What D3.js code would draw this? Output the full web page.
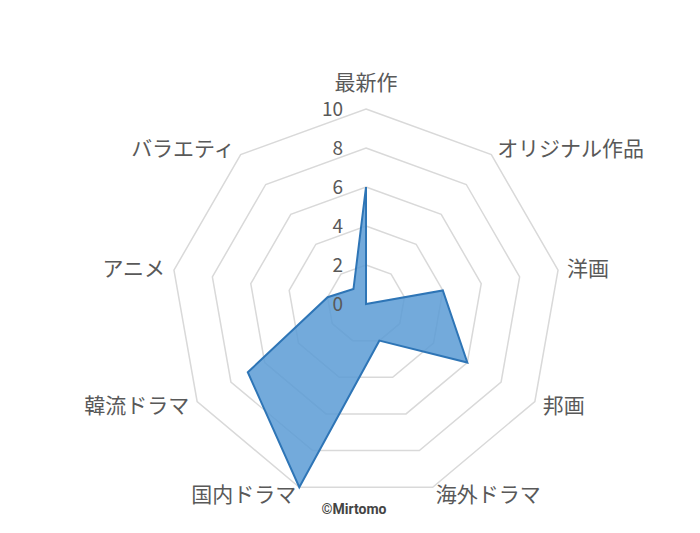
<!DOCTYPE html>
<html>
<head>
<meta charset="utf-8">
<script src="https://cdn.jsdelivr.net/npm/d3@7"></script>
<style>
  body { margin: 0; background: #fff; }
  svg text { font-family: "Noto Sans CJK JP", "Noto Sans", sans-serif; fill: #595959; }
</style>
</head>
<body>
<script>
// categories clockwise from the top
const categories = ['最新作', 'オリジナル作品', '洋画', '邦画', '海外ドラマ', '国内ドラマ', '韓流ドラマ', 'アニメ', 'バラエティ']
const values = [6, 0, 4, 6, 2, 10, 7, 2, 1]
const ticks = [0, 2, 4, 6, 8, 10]

const width = 700
const height = 533
const center = { x: 366, y: 304 }
const radius = 195

const svg = d3.select('body')
  .append('svg')
  .attr('width', width)
  .attr('height', height)

const g = svg.append('g')
  .attr('transform', `translate(${center.x}, ${center.y})`)

const r = d3.scaleLinear()
  .domain([0, 10])
  .range([0, radius])

const angle = d3.scaleLinear()
  .domain([0, categories.length])
  .range([0, 2 * Math.PI])

const pt = (i, v) => [r(v) * Math.sin(angle(i)), -r(v) * Math.cos(angle(i))]

// grid rings
g.selectAll('path.ring')
  .data(ticks.filter(t => t > 0))
  .enter()
  .append('path')
  .attr('class', 'ring')
  .attr('d', t => d3.line()(categories.map((c, i) => pt(i, t))) + 'Z')
  .style('fill', 'none')
  .style('stroke', '#d9d9d9')
  .style('stroke-width', 1.5)

// data polygon
g.append('path')
  .attr('d', d3.line()(values.map((v, i) => pt(i, v))) + 'Z')
  .style('fill', '#5b9bd5')
  .style('fill-opacity', 0.85)
  .style('stroke', '#2e75b6')
  .style('stroke-width', 2)
  .style('stroke-linejoin', 'miter')

// tick labels
g.selectAll('text.tick')
  .data(ticks)
  .enter()
  .append('text')
  .attr('class', 'tick')
  .attr('x', -23)
  .attr('y', t => -r(t))
  .attr('dy', '0.35em')
  .attr('text-anchor', 'end')
  .style('font-size', '19px')
  .text(t => t)

// category labels
const isTop = i => Math.abs(Math.sin(angle(i))) < 0.1
g.selectAll('text.cat')
  .data(categories)
  .enter()
  .append('text')
  .attr('class', 'cat')
  .attr('x', (c, i) => pt(i, 10)[0] + 9 * Math.sin(angle(i)))
  .attr('y', (c, i) => pt(i, 10)[1] - 8 * Math.cos(angle(i)) - (isTop(i) ? 18 : 0))
  .attr('dy', '0.35em')
  .attr('text-anchor', (c, i) => isTop(i) ? 'middle' : Math.sin(angle(i)) > 0 ? 'start' : 'end')
  .style('font-size', '21px')
  .text(c => c)

svg.append('text')
  .attr('x', 354)
  .attr('y', 509)
  .attr('dy', '0.35em')
  .attr('text-anchor', 'middle')
  .style('font-family', 'Roboto, "Noto Sans", sans-serif')
  .style('font-weight', 'bold')
  .style('font-size', '14px')
  .style('fill', '#444')
  .text('©Mirtomo')
</script>
</body>
</html>
